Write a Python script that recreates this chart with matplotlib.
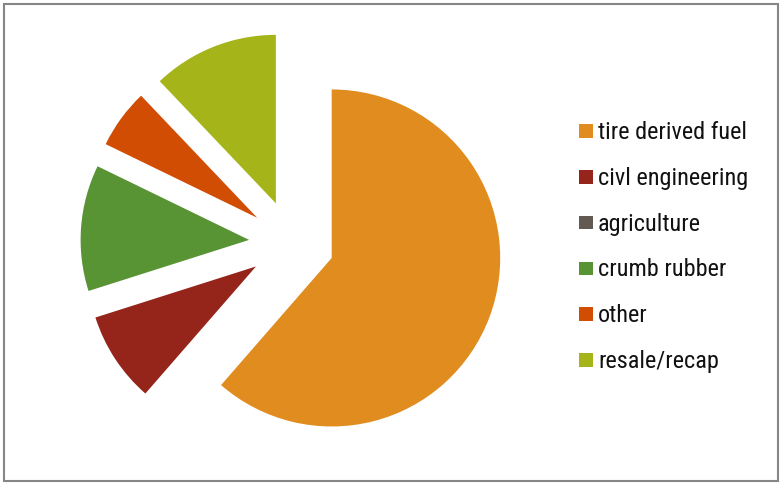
import matplotlib
matplotlib.use("Agg")
import matplotlib.pyplot as plt
from matplotlib.patches import Rectangle
from matplotlib import font_manager

# Scrap tire end-use markets (percent of total)
categories = ["tire derived fuel", "civl engineering", "agriculture",
              "crumb rubber", "other", "resale/recap"]
shares = [61.4, 8.7, 0.0, 12.1, 5.7, 12.1]
colors = ["#E08C1E", "#95251A", "#625A52", "#589434", "#D14D04", "#A5B418"]

names = {f.name for f in font_manager.fontManager.ttflist}
preferred = ["Liberation Sans Narrow", "Arial Narrow", "Roboto Condensed",
             "Archivo Narrow", "PT Sans Narrow", "Liberation Sans"]
family = [next(n for n in preferred if n in names), "DejaVu Sans"]

W, H = 781, 483
fig = plt.figure(figsize=(W / 100, H / 100), dpi=100)
ax = fig.add_axes([0, 0, 1, 1])

radius = 168.5
ax.pie(shares, colors=colors, startangle=90, counterclock=False,
       explode=[42.7] * len(shares), radius=radius, center=(291.7, H - 243),
       wedgeprops=dict(linewidth=0), frame=False)
ax.set_xlim(0, W)
ax.set_ylim(0, H)
ax.set_aspect("equal")
ax.axis("off")

# legend
x_box, y0, step, box = 579, 131, 45.8, 13.5
for i, (name, col) in enumerate(zip(categories, colors)):
    yc = H - (y0 + i * step)
    ax.add_patch(Rectangle((x_box, yc - box / 2), box, box, facecolor=col,
                           edgecolor="none"))
    ax.text(x_box + 19, yc - 1.5, name, fontsize=17.5, family=family,
            va="center", ha="left", color="#111111")

# outer frame
ax.add_patch(Rectangle((4, 2.5), W - 7.5, H - 6, fill=False,
                       edgecolor="#868686", linewidth=1.5))

fig.savefig("out.png", dpi=100)
